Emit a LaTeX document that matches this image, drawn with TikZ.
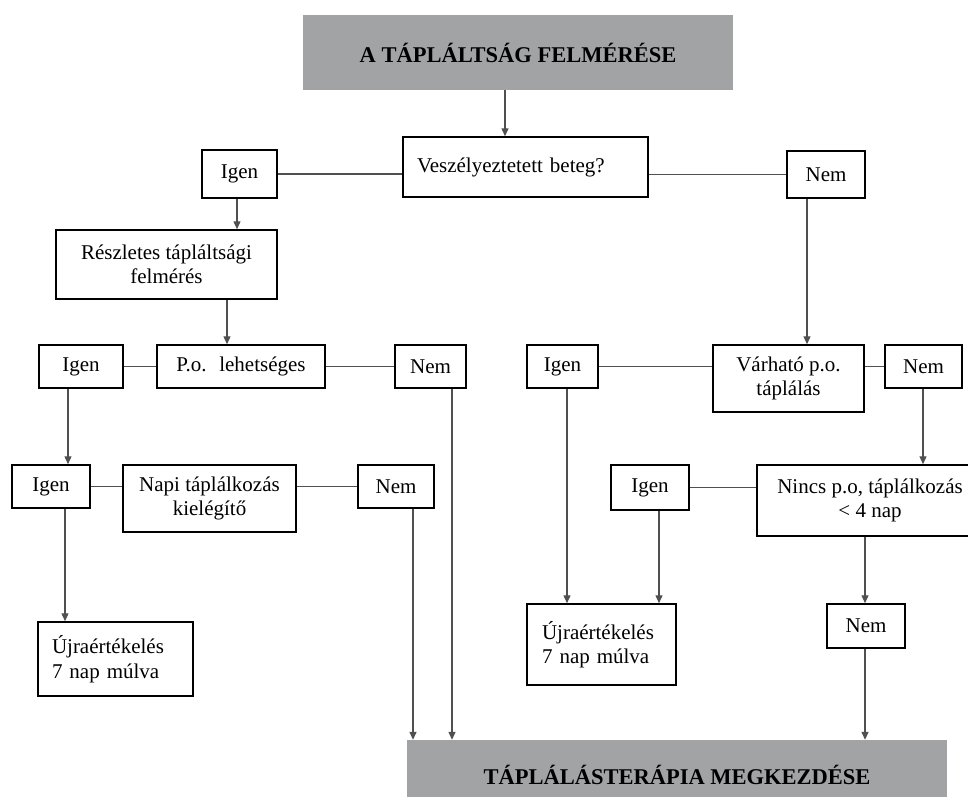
\documentclass[tikz,border=0pt]{standalone}
\usepackage{fontspec}
\setmainfont{Liberation Serif}
\usetikzlibrary{arrows.meta}
\definecolor{hdrgray}{RGB}{162,163,165}
\definecolor{lnk}{RGB}{80,80,80}
\begin{document}
\begin{tikzpicture}[x=1pt,y=-1pt,
  box/.style={draw=black,line width=1.5pt,rectangle,inner sep=0pt,fill=white,
    font=\fontsize{21}{24.5}\selectfont,align=center},
  hdr/.style={rectangle,inner sep=0pt,fill=hdrgray,
    font=\fontsize{22.5}{26}\selectfont\bfseries},
  lnkline/.style={draw=lnk,line width=1.3pt},
  arr/.style={lnkline,-{Triangle[length=8pt,width=7pt]}}]
\useasboundingbox (0,0) rectangle (968,796);
% nodes
\node[hdr,minimum width=430pt,minimum height=75pt] (top) at (518,52.5) {A TÁPLÁLTSÁG FELMÉRÉSE};
\node[box,minimum width=245pt,minimum height=60pt,text width=217pt,align=left] (vesz) at (525.5,167) {Veszélyeztetett beteg?};
\node[box,minimum width=75pt,minimum height=48pt] (igen1) at (239.5,174) {Igen};
\node[box,minimum width=78pt,minimum height=47pt] (nem1) at (826,174.5) {Nem};
\node[box,minimum width=221pt,minimum height=69pt] (resz) at (166.5,264.5) {Részletes tápláltsági\\felmérés};
\node[box,minimum width=168pt,minimum height=43pt] (po) at (241,366.5) {P.o.\hspace{0.6em}lehetséges};
\node[box,minimum width=84pt,minimum height=43pt] (igen2) at (81,366.5) {Igen};
\node[box,minimum width=71pt,minimum height=43pt] (nem2) at (430.5,366.5) {Nem};
\node[box,minimum width=78pt,minimum height=43pt] (igen3) at (51,486.5) {Igen};
\node[box,minimum width=173pt,minimum height=67pt] (napi) at (209.5,498.5) {Napi táplálkozás\\kielégítő};
\node[box,minimum width=76pt,minimum height=43pt] (nem3) at (396,486.5) {Nem};
\node[box,minimum width=155pt,minimum height=74pt,text width=127pt,align=left] (ujra1) at (115.5,659) {Újraértékelés\\7 nap múlva};
\node[hdr,minimum width=540pt,minimum height=70pt] (bottom) at (677,775) {TÁPLÁLÁSTERÁPIA MEGKEZDÉSE};
\node[box,minimum width=71pt,minimum height=43pt] (igen4) at (562.5,366.5) {Igen};
\node[box,minimum width=151pt,minimum height=67pt] (varh) at (788.5,378.5) {Várható p.o.\\táplálás};
\node[box,minimum width=77pt,minimum height=43pt] (nem4) at (923.5,366.5) {Nem};
\node[box,minimum width=78pt,minimum height=45pt] (igen5) at (650,487.5) {Igen};
\node[box,minimum width=226pt,minimum height=71pt] (nincs) at (870,500.5) {Nincs p.o, táplálkozás\\< 4 nap};
\node[box,minimum width=149pt,minimum height=81pt,text width=119pt,align=left] (ujra2) at (601.5,644.5) {Újraértékelés\\7 nap múlva};
\node[box,minimum width=78pt,minimum height=44pt] (nem5) at (866,626) {Nem};
% guide coordinates for vertical connectors
\coordinate (xa) at (505,0);
\coordinate (xb) at (227,0);
\coordinate (xc) at (68,0);
\coordinate (xd) at (65,0);
\coordinate (xe) at (413,0);
\coordinate (xf) at (452,0);
\coordinate (xg) at (807,0);
\coordinate (xh) at (923,0);
\coordinate (xi) at (567,0);
\coordinate (xj) at (659,0);
\coordinate (xk) at (865,0);
\coordinate (xl) at (237,0);
% connectors
\draw[arr] (top.south -| xa) -- (vesz.north -| xa);
\draw[lnkline] (igen1.east) -- (igen1.east -| vesz.west);
\draw[lnkline] (nem1.west -| vesz.east) -- (nem1.west);
\draw[arr] (igen1.south -| xl) -- (resz.north -| xl);
\draw[arr] (resz.south -| xb) -- (po.north -| xb);
\draw[lnkline] (igen2.east) -- (po.west);
\draw[lnkline] (po.east) -- (nem2.west);
\draw[arr] (igen2.south -| xc) -- (igen3.north -| xc);
\draw[lnkline] (igen3.east) -- (igen3.east -| napi.west);
\draw[lnkline] (nem3.west -| napi.east) -- (nem3.west);
\draw[arr] (igen3.south -| xd) -- (ujra1.north -| xd);
\draw[arr] (nem3.south -| xe) -- (bottom.north -| xe);
\draw[arr] (nem2.south -| xf) -- (bottom.north -| xf);
\draw[arr] (nem1.south -| xg) -- (varh.north -| xg);
\draw[lnkline] (igen4.east) -- (igen4.east -| varh.west);
\draw[lnkline] (nem4.west -| varh.east) -- (nem4.west);
\draw[arr] (nem4.south -| xh) -- (nincs.north -| xh);
\draw[lnkline] (igen5.east) -- (igen5.east -| nincs.west);
\draw[arr] (igen4.south -| xi) -- (ujra2.north -| xi);
\draw[arr] (igen5.south -| xj) -- (ujra2.north -| xj);
\draw[arr] (nincs.south -| xk) -- (nem5.north -| xk);
\draw[arr] (nem5.south -| xk) -- (bottom.north -| xk);
\end{tikzpicture}
\end{document}
